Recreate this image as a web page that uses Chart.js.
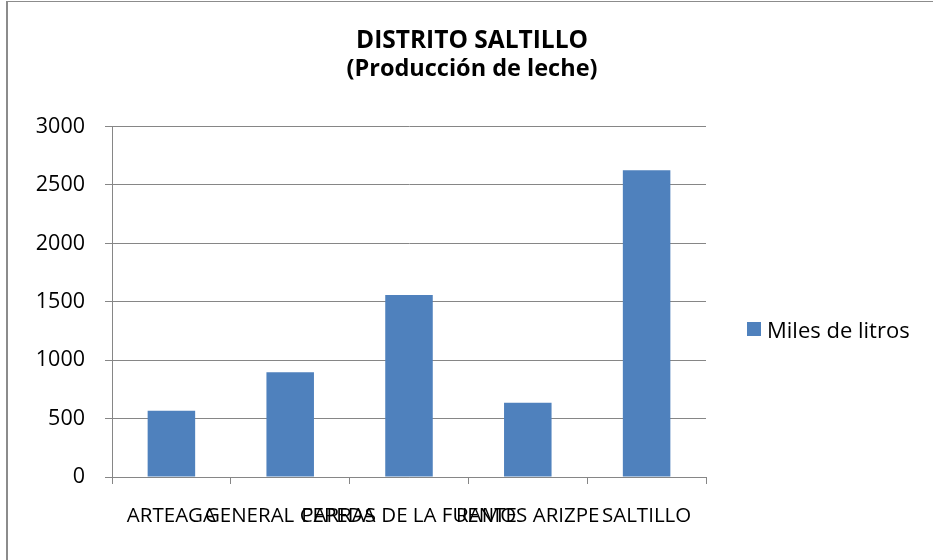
<!DOCTYPE html>
<html>
<head>
<meta charset="utf-8">
<title>Distrito Saltillo</title>
<script src="https://cdn.jsdelivr.net/npm/chart.js@4"></script>
<style>
    body { margin: 0; background: #fff; }
    #wrap { position: relative; width: 933px; height: 560px; }
    #legend { position: absolute; left: 747px; top: 314px; font: 22px "Open Sans", sans-serif; line-height: 30px; color: #000; }
    #legend .item { display: flex; align-items: center; }
    #legend .box { width: 14px; height: 14px; margin-right: 6px; }
</style>
</head>
<body>
<div id="wrap">
    <canvas id="chart" width="933" height="560"></canvas>
    <div id="legend"></div>
</div>
<script>
const titleText = 'DISTRITO SALTILLO';
const subtitleText = '(Producción de leche)';
const seriesName = 'Miles de litros';
const municipios = ['ARTEAGA', 'GENERAL CEPEDA', 'PARRAS DE LA FUENTE', 'RAMOS ARIZPE', 'SALTILLO'];
const litros = [567, 897, 1559, 636, 2627];
const yMax = 3000;
const yStep = 500;

const gray = '#868686';
const barColor = '#4F81BD';
const fontFamily = 'Open Sans';

// the frame round the chart (only top and left edges show)
const framePlugin = {
    id: 'frame',
    beforeDraw(chart) {
        const ctx = chart.ctx;
        ctx.save();
        ctx.fillStyle = '#8c8c8c';
        ctx.fillRect(6, 1, 2, 559);
        ctx.fillRect(6, 1, 927, 1);
        ctx.restore();
    }
};

const ctx = document.getElementById('chart').getContext('2d');

const chart = new Chart(ctx, {
    type: 'bar',
    data: {
        labels: municipios,
        datasets: [{
            label: seriesName,
            data: litros,
            backgroundColor: barColor,
            borderWidth: 0,
            barPercentage: 0.4,
            categoryPercentage: 1.0
        }]
    },
    options: {
        responsive: false,
        animation: false,
        layout: {
            padding: { left: 11, right: 0, top: 0, bottom: 0 }
        },
        plugins: {
            legend: { display: false },
            tooltip: { enabled: false },
            title: {
                display: true,
                text: titleText,
                color: '#000',
                font: { family: fontFamily, size: 24.5, weight: 'bold', lineHeight: 1.2 },
                padding: { top: 26, bottom: 0 }
            },
            subtitle: {
                display: true,
                text: subtitleText,
                color: '#000',
                font: { family: fontFamily, size: 23.5, weight: 'bold', lineHeight: 1.2 },
                padding: { top: 0, bottom: 43 }
            }
        },
        scales: {
            x: {
                grid: {
                    display: true,
                    drawOnChartArea: false,
                    drawTicks: true,
                    tickLength: 7,
                    offset: true,
                    color: gray
                },
                border: { color: gray, width: 1 },
                ticks: {
                    autoSkip: false,
                    maxRotation: 0,
                    minRotation: 0,
                    padding: 20,
                    color: '#000',
                    font: { family: fontFamily, size: 20.5 }
                },
                afterFit(scale) { scale.height = 83; }
            },
            y: {
                min: 0,
                max: yMax,
                grid: {
                    color: gray,
                    tickLength: 7
                },
                border: { color: gray, width: 1 },
                ticks: {
                    stepSize: yStep,
                    padding: 20,
                    color: '#000',
                    font: { family: fontFamily, size: 21.5 },
                    callback: value => String(value)
                },
                afterFit(scale) { scale.width = 101; }
            },
            // empty space on the right where the legend sits
            side: {
                position: 'right',
                display: true,
                grid: { display: false },
                border: { display: false },
                ticks: { display: false },
                afterFit(scale) { scale.width = 227; }
            }
        }
    },
    plugins: [framePlugin]
});

// html legend built from the dataset
function buildLegend() {
    const legend = document.getElementById('legend');
    legend.innerHTML = '';
    chart.data.datasets.forEach(ds => {
        const item = document.createElement('div');
        item.className = 'item';
        const box = document.createElement('span');
        box.className = 'box';
        box.style.background = ds.backgroundColor;
        item.appendChild(box);
        item.appendChild(document.createTextNode(ds.label));
        legend.appendChild(item);
    });
}
buildLegend();
</script>
</body>
</html>
